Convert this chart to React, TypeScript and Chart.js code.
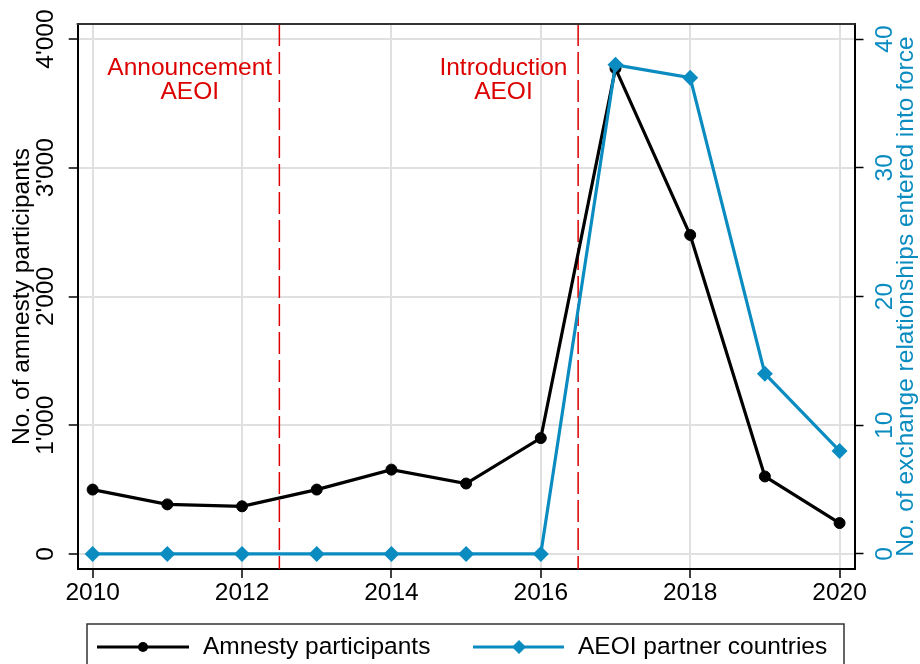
import React, { useEffect, useRef } from "react";
import { Chart, registerables } from "chart.js";

Chart.register(...registerables);

// ---------- data ----------
const years = [2010, 2011, 2012, 2013, 2014, 2015, 2016, 2017, 2018, 2019, 2020];
const amnestyParticipants = [500, 385, 370, 500, 655, 547, 900, 3772, 2478, 602, 240];
const aeoiPartners = [0, 0, 0, 0, 0, 0, 0, 38, 37, 14, 8];
const xTickValues = [2010, 2012, 2014, 2016, 2018, 2020];
const leftTickValues = [0, 1000, 2000, 3000, 4000];
const leftTickLabels = ["0", "1'000", "2'000", "3'000", "4'000"];
const rightTickValues = [0, 10, 20, 30, 40];
const rightTickLabels = ["0", "10", "20", "30", "40"];
const eventYears = [2012.5, 2016.5];
const eventTextLines = [
  ["Announcement", "AEOI"],
  ["Introduction", "AEOI"],
];
const eventTextX = [2011.3, 2015.5];
const eventTextY = [3770, 3585];
const seriesNames = ["Amnesty participants", "AEOI partner countries"];
const leftTitle = "No. of amnesty participants";
const rightTitle = "No. of exchange relationships entered into force";

// ---------- style ----------
const FONT = '"Liberation Sans", Arial, Helvetica, sans-serif';
const FS = 24.5;
const BLACK = "#000000";
const BLUE = "#0b8cc1";
const RED = "#dc0000";
const GRID = "#e0e0e0";

function vText(ctx: CanvasRenderingContext2D, text: string, x: number, y: number, color: string, size = FS) {
  ctx.save();
  ctx.translate(x, y);
  ctx.rotate(-Math.PI / 2);
  ctx.fillStyle = color;
  ctx.font = `${size}px ${FONT}`;
  ctx.textAlign = "center";
  ctx.textBaseline = "middle";
  ctx.fillText(text, 0, 0);
  ctx.restore();
}

const customPlugin = {
  id: "customDecor",
  beforeDatasetsDraw(chart: any) {
    const { ctx, chartArea, scales } = chart;
    ctx.save();
    // event lines
    ctx.strokeStyle = RED;
    ctx.lineWidth = 1.5;
    ctx.setLineDash([22, 6]);
    eventYears.forEach((v) => {
      const x = scales.x.getPixelForValue(v);
      ctx.beginPath();
      ctx.moveTo(x, chartArea.top);
      ctx.lineTo(x, chartArea.bottom);
      ctx.stroke();
    });
    ctx.setLineDash([]);
    // event labels
    ctx.fillStyle = RED;
    ctx.font = `${FS}px ${FONT}`;
    ctx.textAlign = "center";
    ctx.textBaseline = "middle";
    eventTextLines.forEach((lines, i) => {
      const x = scales.x.getPixelForValue(eventTextX[i]);
      lines.forEach((t, j) => {
        ctx.fillText(t, x, scales.y.getPixelForValue(eventTextY[j]));
      });
    });
    ctx.restore();
  },
  afterDraw(chart: any) {
    const { ctx, chartArea, scales } = chart;
    ctx.save();
    // top frame
    ctx.strokeStyle = "#333333";
    ctx.lineWidth = 2;
    ctx.beginPath();
    ctx.moveTo(chartArea.left - 1, chartArea.top);
    ctx.lineTo(chartArea.right + 1, chartArea.top);
    ctx.stroke();

    // left ticks + title
    leftTickValues.forEach((v, i) => {
      vText(ctx, leftTickLabels[i], 46, scales.y.getPixelForValue(v), BLACK);
    });
    const midY = (chartArea.top + chartArea.bottom) / 2;
    vText(ctx, leftTitle, 22, midY, BLACK);

    // right ticks + title
    rightTickValues.forEach((v, i) => {
      vText(ctx, rightTickLabels[i], 885, scales.y1.getPixelForValue(v), BLUE);
    });
    vText(ctx, rightTitle, 906, midY, BLUE);

    // legend
    const boxL = 87, boxR = 844, boxT = 624;
    ctx.strokeStyle = "#333333";
    ctx.lineWidth = 1.5;
    ctx.strokeRect(boxL, boxT, boxR - boxL, 60);
    const ly = 647;
    // item 1
    ctx.strokeStyle = BLACK;
    ctx.lineWidth = 3;
    ctx.beginPath();
    ctx.moveTo(97, ly);
    ctx.lineTo(189, ly);
    ctx.stroke();
    ctx.fillStyle = BLACK;
    ctx.beginPath();
    ctx.arc(143, ly, 5, 0, Math.PI * 2);
    ctx.fill();
    ctx.font = `${FS}px ${FONT}`;
    ctx.textAlign = "left";
    ctx.textBaseline = "middle";
    ctx.fillText(seriesNames[0], 203, ly);
    // item 2
    ctx.strokeStyle = BLUE;
    ctx.beginPath();
    ctx.moveTo(473, ly);
    ctx.lineTo(564, ly);
    ctx.stroke();
    ctx.fillStyle = BLUE;
    ctx.beginPath();
    ctx.moveTo(519 - 7, ly);
    ctx.lineTo(519, ly - 7);
    ctx.lineTo(519 + 7, ly);
    ctx.lineTo(519, ly + 7);
    ctx.closePath();
    ctx.fill();
    ctx.fillStyle = BLACK;
    ctx.fillText(seriesNames[1], 578, ly);
    ctx.restore();
  },
};

export default function App() {
  const ref = useRef<HTMLCanvasElement>(null);
  useEffect(() => {
    if (!ref.current) return;
    const chart = new Chart(ref.current, {
      type: "line",
      data: {
        datasets: [
          {
            label: seriesNames[0],
            data: years.map((x, i) => ({ x, y: amnestyParticipants[i] })),
            borderColor: BLACK,
            backgroundColor: BLACK,
            borderWidth: 3.2,
            pointRadius: 5.5,
            pointBorderWidth: 1,
            pointBackgroundColor: BLACK,
            pointBorderColor: BLACK,
            yAxisID: "y",
            order: 2,
            tension: 0,
          },
          {
            label: seriesNames[1],
            data: years.map((x, i) => ({ x, y: aeoiPartners[i] })),
            borderColor: BLUE,
            backgroundColor: BLUE,
            borderWidth: 3.2,
            pointStyle: "rectRot",
            pointRadius: 8,
            pointBorderWidth: 0,
            pointBackgroundColor: BLUE,
            pointBorderColor: BLUE,
            yAxisID: "y1",
            order: 1,
            tension: 0,
          },
        ],
      },
      options: {
        animation: false,
        responsive: false,
        devicePixelRatio: 1,
        layout: { padding: { top: 24, left: 0, right: 0, bottom: 0 } },
        plugins: { legend: { display: false }, tooltip: { enabled: false }, title: { display: false } },
        scales: {
          x: {
            type: "linear",
            min: 2009.8,
            max: 2020.2,
            afterBuildTicks: (s: any) => {
              s.ticks = xTickValues.map((v) => ({ value: v }));
            },
            afterFit: (s: any) => {
              s.height = 95;
            },
            ticks: {
              autoSkip: false,
              maxRotation: 0,
              minRotation: 0,
              padding: 1,
              color: BLACK,
              font: { family: FONT, size: FS },
              callback: (v: any) => String(v),
            },
            grid: {
              color: GRID,
              lineWidth: 2,
              drawTicks: true,
              tickLength: 9,
              tickColor: BLACK,
              tickWidth: 1.5,
            },
            border: { display: true, color: BLACK, width: 2 },
          },
          y: {
            type: "linear",
            position: "left",
            min: -117,
            max: 4117,
            afterBuildTicks: (s: any) => {
              s.ticks = leftTickValues.map((v) => ({ value: v }));
            },
            afterFit: (s: any) => {
              s.width = 77.7;
            },
            ticks: { display: false },
            grid: {
              color: GRID,
              lineWidth: 2,
              drawTicks: true,
              tickLength: 9,
              tickColor: BLACK,
              tickWidth: 1.5,
            },
            border: { display: true, color: BLACK, width: 2 },
          },
          y1: {
            type: "linear",
            position: "right",
            min: -1.17,
            max: 41.17,
            afterBuildTicks: (s: any) => {
              s.ticks = rightTickValues.map((v) => ({ value: v }));
            },
            afterFit: (s: any) => {
              s.width = 65.5;
            },
            ticks: { display: false },
            grid: {
              drawOnChartArea: false,
              drawTicks: true,
              tickLength: 9,
              tickColor: BLACK,
              tickWidth: 1.5,
            },
            border: { display: true, color: BLACK, width: 2 },
          },
        },
      },
      plugins: [customPlugin],
    } as any);
    return () => chart.destroy();
  }, []);
  return (
    <div style={{ position: "fixed", left: 0, top: 0, width: 920, height: 664, background: "#ffffff" }}>
      <canvas ref={ref} width={920} height={664} style={{ display: "block" }} />
    </div>
  );
}
